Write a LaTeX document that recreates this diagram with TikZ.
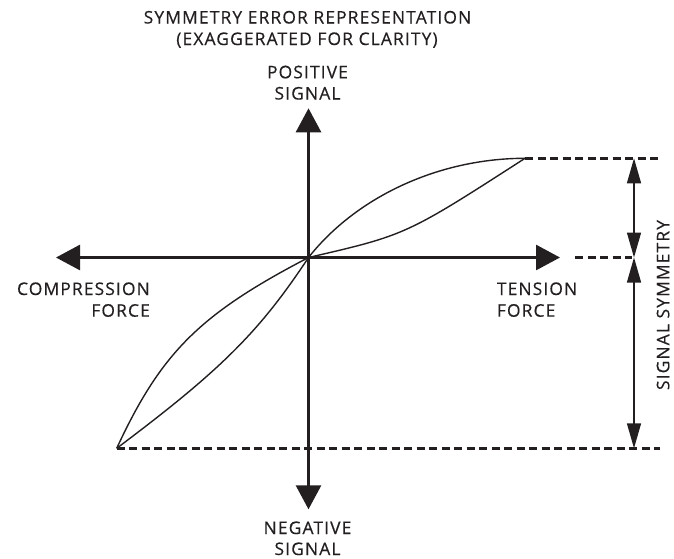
\documentclass[tikz,border=0pt]{standalone}
\usepackage{fontspec}
\newfontfamily\labfont{Open Sans}[LetterSpace=6.5,FakeBold=0.4]
\usetikzlibrary{arrows.meta}
\definecolor{ink}{HTML}{231F20}
\tikzset{
  bigtip/.tip={Triangle[length=24pt,width=25pt]},
  dimtip/.tip={Triangle[length=25pt,width=14pt]},
}
\begin{document}
\begin{tikzpicture}[x=1pt,y=-1pt,
  axis/.style={draw=ink, line width=2.8pt, bigtip-bigtip},
  curve/.style={draw=ink, line width=1.4pt},
  guide/.style={draw=ink, line width=2.6pt, dash pattern=on 8pt off 4.5pt},
  dim/.style={draw=ink, line width=1.4pt, dimtip-dimtip},
  lab/.style={text=ink, font=\labfont\fontsize{17.4}{21.7}\selectfont, inner sep=0pt},
]
\useasboundingbox (0,0) rectangle (674,558);
% key points
\coordinate (O) at (308.5,257.5);
\coordinate (T) at (525,158.3);
\coordinate (B) at (116.7,448.3);
% axes
\coordinate (xl) at (56,257.5);
\coordinate (xr) at (560,257.5);
\coordinate (yt) at (308.5,108.3);
\coordinate (yb) at (308.5,509.3);
\draw[axis] (xl) -- (xr);
\draw[axis] (yt) -- (yb);
% curves
\draw[curve] (O) .. controls (357,196) and (440,158.3) .. (T);
\draw[curve] (O) .. controls (406,235) and (406,235) .. (T);
\draw[curve] (O) .. controls (199.8,314.1) and (161.3,352.3) .. (B);
\draw[curve] (O) .. controls (259.2,332.1) and (220.7,370.3) .. (B);
% dashed guides
\coordinate (tr) at (662,158.3);
\coordinate (ml) at (575,257.5);
\coordinate (mr) at (632,257.5);
\coordinate (br) at (660,448.3);
\draw[guide] (T) -- (tr);
\draw[guide] (ml) -- (mr);
\draw[guide] (B) -- (br);
% dimension arrows
\coordinate (d1) at (634,158.3);
\coordinate (d2) at (634,257.5);
\coordinate (d3) at (634,448.3);
\draw[dim] (d1) -- (d2);
\draw[dim] (d2) -- (d3);
% labels
\node[lab, anchor=base] (title1) at (307.5,23.5) {SYMMETRY ERROR REPRESENTATION};
\node[lab, anchor=base] (title2) at (307,45) {(EXAGGERATED FOR CLARITY)};
\node[lab, anchor=base] (pos1) at (307.5,78.3) {POSITIVE};
\node[lab, anchor=base] (pos2) at (307.5,99.5) {SIGNAL};
\node[lab, anchor=base] (neg1) at (307.5,534) {NEGATIVE};
\node[lab, anchor=base] (neg2) at (307.5,555) {SIGNAL};
\node[lab, anchor=base east] (comp1) at (150,295) {COMPRESSION};
\node[lab, anchor=base east] (comp2) at (150,316.7) {FORCE};
\node[lab, anchor=base west] (ten1) at (496.7,295) {TENSION};
\node[lab, anchor=base west] (ten2) at (496.7,316.7) {FORCE};
\node[lab, anchor=base, rotate=90] (sym) at (669.3,305) {SIGNAL SYMMETRY};
\end{tikzpicture}
\end{document}
